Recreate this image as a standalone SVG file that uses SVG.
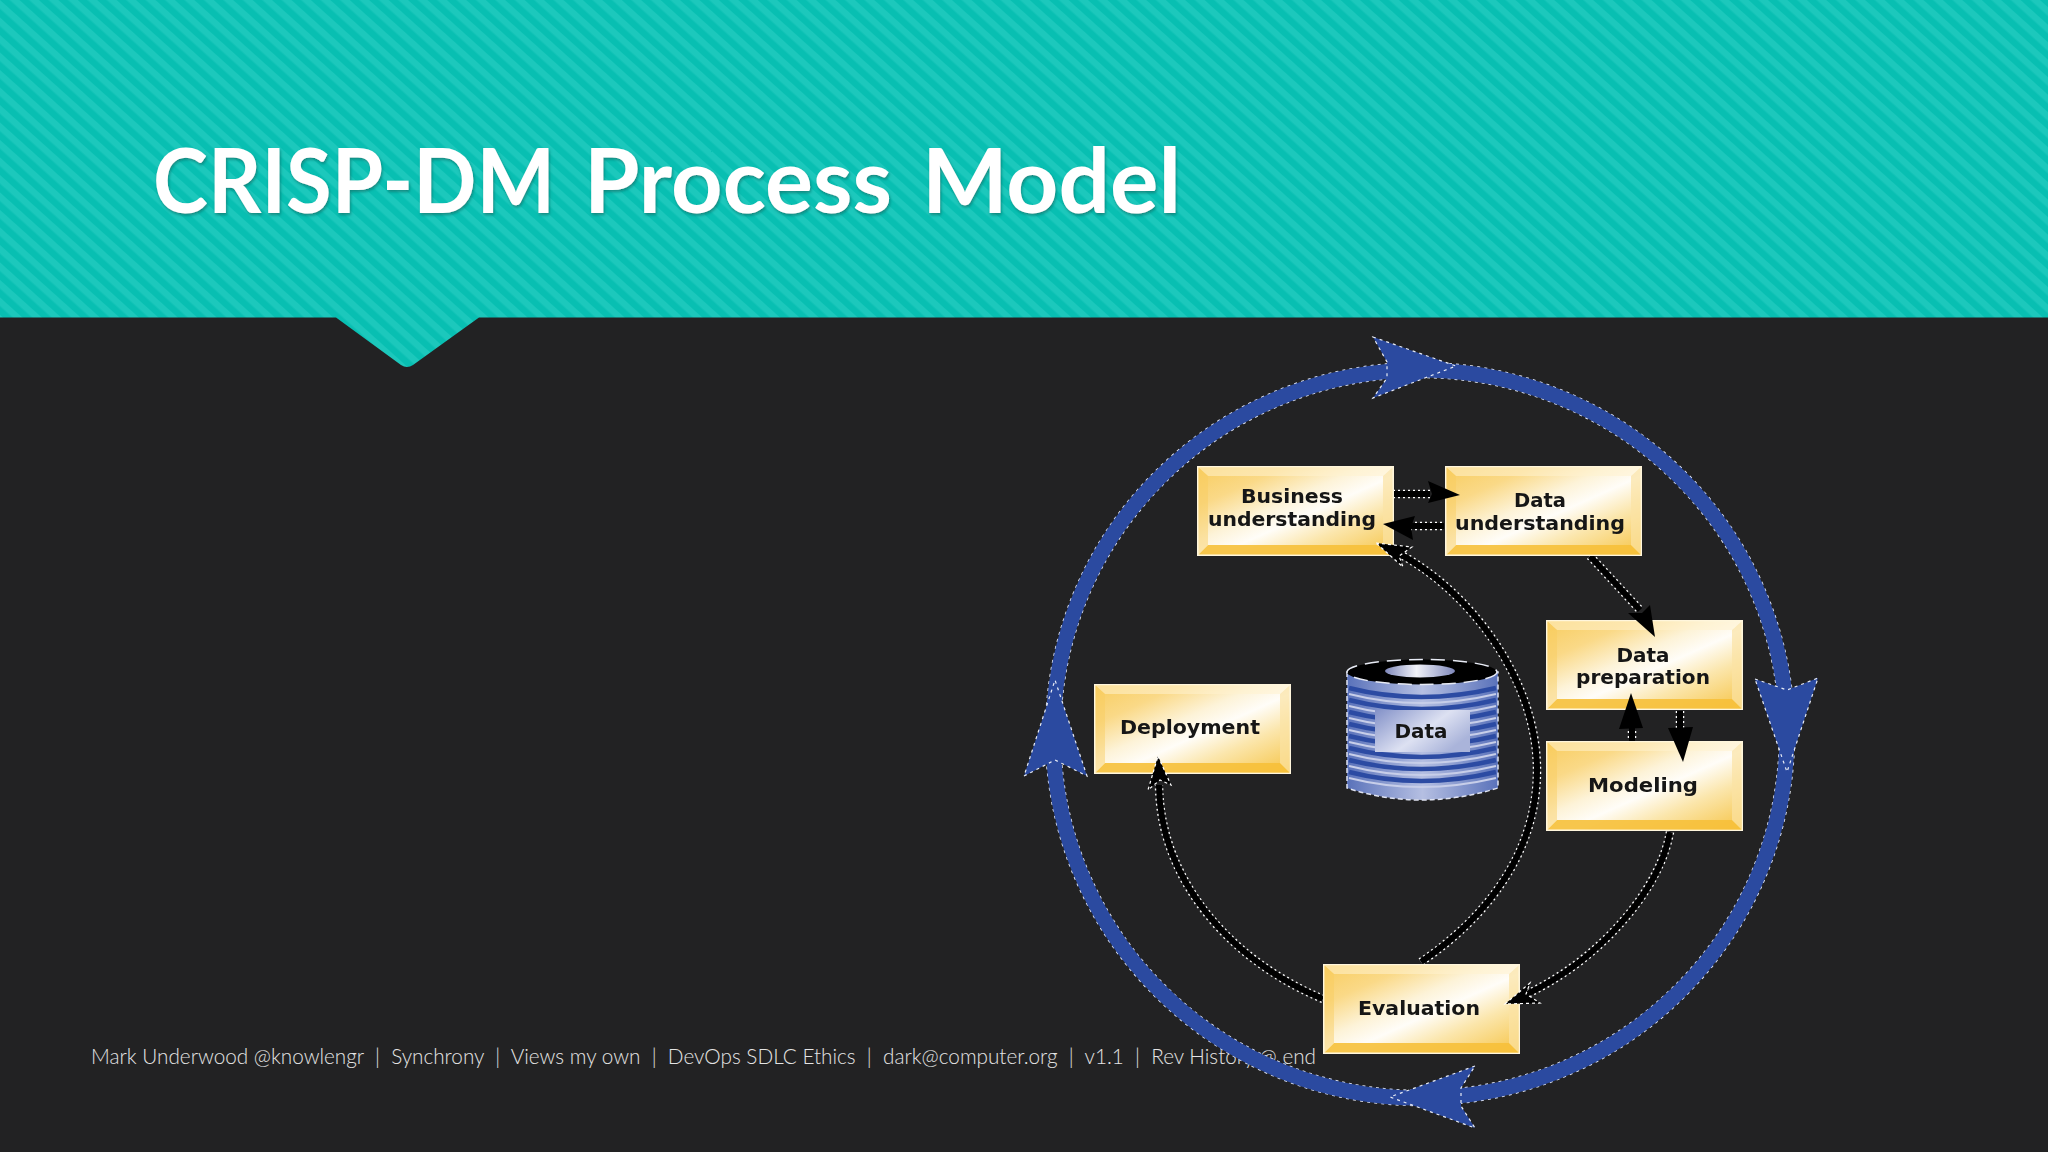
<svg xmlns="http://www.w3.org/2000/svg" xmlns:xlink="http://www.w3.org/1999/xlink" width="2048" height="1152" viewBox="0 0 2048 1152">
<defs>
<pattern id="stripes" width="13" height="13" patternUnits="userSpaceOnUse" patternTransform="rotate(42)">
<rect width="13" height="13" fill="#08bfb2"/>
<rect width="13" height="6.5" fill="#1cc8bc"/>
</pattern>
<linearGradient id="boxg" x1="0" y1="0" x2="1" y2="1">
<stop offset="0" stop-color="#f8cd60"/>
<stop offset="0.22" stop-color="#fad987"/>
<stop offset="0.42" stop-color="#fdf3d8"/>
<stop offset="0.55" stop-color="#fffdf8"/>
<stop offset="0.72" stop-color="#fbe6ac"/>
<stop offset="1" stop-color="#f6c446"/>
</linearGradient>
<linearGradient id="hole" x1="0" y1="0" x2="1" y2="0">
<stop offset="0" stop-color="#7f88bb"/>
<stop offset="0.45" stop-color="#f1f2f8"/>
<stop offset="1" stop-color="#7f88bb"/>
</linearGradient>
<linearGradient id="lab" x1="0" y1="0" x2="1" y2="0.6">
<stop offset="0" stop-color="#8391c8"/>
<stop offset="0.6" stop-color="#dde1f2"/>
<stop offset="1" stop-color="#aab4da"/>
</linearGradient>
<linearGradient id="cyl" x1="0" y1="0" x2="1" y2="0">
<stop offset="0" stop-color="#5a72ba"/>
<stop offset="0.5" stop-color="#b5bfe2"/>
<stop offset="1" stop-color="#5a72ba"/>
</linearGradient>
<filter id="soft" x="-5%" y="-20%" width="110%" height="140%"><feGaussianBlur stdDeviation="0.6"/></filter>
<filter id="shadow" x="-2%" y="-10%" width="104%" height="125%"><feDropShadow dx="1" dy="2" stdDeviation="1.5" flood-color="#0a6f68" flood-opacity="0.7"/></filter>
<g id="boxshape">
<rect x="0" y="0" width="197" height="90" fill="#fff6dc"/>
<rect x="1.5" y="1.5" width="194" height="87" fill="url(#boxg)"/>
<polygon points="1.5,1.5 195.500,1.500 186,10 11,10" fill="#fff3cf" fill-opacity="0.55"/>
<polygon points="1.500,88.500 195.500,88.500 186,79 11,79" fill="#f6c03a" fill-opacity="0.9"/>
<polygon points="1.500,1.500 11,10 11,79 1.500,88.500" fill="#f8cc5e" fill-opacity="0.45"/>
<polygon points="195.500,1.500 186,10 186,79 195.500,88.500" fill="#fbe3a4" fill-opacity="0.7"/>
</g>
</defs>
<style>
.box-t{font-family:"DejaVu Sans",sans-serif;font-weight:700;font-size:19px;fill:#141414;text-anchor:middle;filter:url(#soft)}
.edge{fill:none;stroke:#e8ecf6;stroke-dasharray:3 4}
.blue{fill:#2b4aa0;stroke:#e8ecf6;stroke-width:1.2;stroke-dasharray:3 4}
.blk{fill:#000;stroke:#fff;stroke-width:1.2;stroke-dasharray:3 3}
.inner-w{fill:none;stroke:#fff;stroke-width:8.500;stroke-dasharray:2 3}
.inner-b{fill:none;stroke:#000;stroke-width:6}
.rib{fill:none;stroke:#2c4ba3;stroke-width:4.500}
.rib2{fill:none;stroke:#c7cee9;stroke-width:2}
</style>

<rect id="background" width="2048" height="1152" fill="#222223"/>
<g id="header">
<path d="M0 0H2048V317.500H479L413 365Q407 369 401 365L336 317.500H0Z" fill="url(#stripes)"/>
<text id="title" y="213" font-family="Lato, 'Open Sans', sans-serif" font-weight="700" font-size="90" fill="#fff" filter="url(#shadow)"><tspan x="153" textLength="402" lengthAdjust="spacingAndGlyphs">CRISP-DM</tspan> <tspan x="584" textLength="308" lengthAdjust="spacingAndGlyphs">Process</tspan> <tspan x="922" textLength="259" lengthAdjust="spacingAndGlyphs">Model</tspan></text>
</g>
<text id="footer" x="91" y="1064" font-family="Lato, 'Open Sans', sans-serif" font-weight="300" font-size="21" fill="#e4e4e4" textLength="1225" lengthAdjust="spacingAndGlyphs" xml:space="preserve">Mark Underwood @knowlengr  |  Synchrony  |  Views my own  |  DevOps SDLC Ethics  |  dark@computer.org  |  v1.1  |  Rev History @ end</text>

<g id="connectors">
<g id="outer-cycle">
<ellipse cx="1420" cy="734" rx="367" ry="364" class="edge" stroke-width="16.500"/>
<ellipse cx="1420" cy="734" rx="367" ry="364" fill="none" stroke="#2b4aa0" stroke-width="15"/>
<polygon class="blue" points="1373,337 1456,366 1373,398 1387,378 1387,362"/>
<polygon class="blue" points="1755,679 1787,690 1818,678 1787,772"/>
<polygon class="blue" points="1475,1066 1390,1097 1475,1128 1461,1106 1461,1088"/>
<polygon class="blue" points="1024,776 1055,760 1087,776 1055,680"/>
</g>
<g id="inner-arrows">
<path class="inner-w" d="M1421 962C1490 915 1537 850 1537 770C1537 680 1470 590 1396 552"/>
<path class="inner-b" d="M1421 962C1490 915 1537 850 1537 770C1537 680 1470 590 1396 552"/>
<path class="inner-w" d="M1323 999C1230 960 1160 880 1159 785"/>
<path class="inner-b" d="M1323 999C1230 960 1160 880 1159 785"/>
<path class="inner-w" d="M1670 832C1660 890 1600 960 1525 995"/>
<path class="inner-b" d="M1670 832C1660 890 1600 960 1525 995"/>
<path class="inner-w" d="M1590 556L1640 610"/>
<path class="inner-b" d="M1590 556L1640 610"/>
<path class="inner-w" d="M1393 494H1430"/>
<path class="inner-w" d="M1410 526H1444"/>
<path class="inner-b" d="M1393 494H1430M1410 526H1444"/>
</g>
</g>

<g id="node-business"><use xlink:href="#boxshape" x="1197" y="466"/><text class="box-t" x="1292" y="503" textLength="102" lengthAdjust="spacingAndGlyphs">Business</text><text class="box-t" x="1292" y="526" textLength="168" lengthAdjust="spacingAndGlyphs">understanding</text></g>
<g id="node-data-understanding"><use xlink:href="#boxshape" x="1445" y="466"/><text class="box-t" x="1540" y="507" textLength="52" lengthAdjust="spacingAndGlyphs">Data</text><text class="box-t" x="1540" y="530" textLength="170" lengthAdjust="spacingAndGlyphs">understanding</text></g>
<g id="node-data-preparation"><use xlink:href="#boxshape" x="1546" y="620"/><text class="box-t" x="1643" y="662" textLength="53" lengthAdjust="spacingAndGlyphs">Data</text><text class="box-t" x="1643" y="684" textLength="134" lengthAdjust="spacingAndGlyphs">preparation</text></g>
<g id="node-modeling"><use xlink:href="#boxshape" x="1546" y="741"/><text class="box-t" x="1643" y="792" textLength="110" lengthAdjust="spacingAndGlyphs">Modeling</text></g>
<g id="node-deployment"><use xlink:href="#boxshape" x="1094" y="684"/><text class="box-t" x="1190" y="734" textLength="140" lengthAdjust="spacingAndGlyphs">Deployment</text></g>
<g id="node-evaluation"><use xlink:href="#boxshape" x="1323" y="964"/><text class="box-t" x="1419" y="1015" textLength="122" lengthAdjust="spacingAndGlyphs">Evaluation</text></g>

<g id="node-data">
<path d="M1347 672V788Q1420 812 1498 788V672Z" fill="url(#cyl)" stroke="#dfe3f2" stroke-width="1.500" stroke-dasharray="5 3"/>
<g id="data-ribs">
<path class="rib" d="M1349 688Q1420 706 1496 688"/><path class="rib2" d="M1349 694Q1420 712 1496 694"/>
<path class="rib" d="M1349 700Q1420 718 1496 700"/><path class="rib2" d="M1349 706Q1420 724 1496 706"/>
<path class="rib" d="M1349 712Q1420 730 1496 712"/><path class="rib2" d="M1349 718Q1420 736 1496 718"/>
<path class="rib" d="M1349 724Q1420 742 1496 724"/><path class="rib2" d="M1349 730Q1420 748 1496 730"/>
<path class="rib" d="M1349 736Q1420 754 1496 736"/><path class="rib2" d="M1349 742Q1420 760 1496 742"/>
<path class="rib" d="M1349 748Q1420 766 1496 748"/><path class="rib2" d="M1349 754Q1420 772 1496 754"/>
<path class="rib" d="M1349 760Q1420 778 1496 760"/><path class="rib2" d="M1349 766Q1420 784 1496 766"/>
<path class="rib" d="M1349 772Q1420 790 1496 772"/><path class="rib2" d="M1349 778Q1420 796 1496 778"/>
</g>
<ellipse cx="1422" cy="672" rx="75" ry="12.500" fill="#000" stroke="#e8ebf5" stroke-width="1.500" stroke-dasharray="14 8"/>
<ellipse cx="1420" cy="671" rx="35" ry="6.500" fill="url(#hole)"/>
<rect x="1375" y="710" width="95" height="42" fill="url(#lab)"/>
<text class="box-t" x="1421" y="738" textLength="53" lengthAdjust="spacingAndGlyphs">Data</text>
</g>

<g id="arrowheads">
<path class="inner-w" d="M1632 711V741"/><path class="inner-b" d="M1632 711V741"/>
<path class="inner-w" d="M1680 711V732"/><path class="inner-b" d="M1680 711V732"/>
<polygon fill="#000" points="1631,693 1643,728 1619,729"/>
<polygon fill="#000" points="1683,762 1668,728 1693,727"/>
<polygon class="blk" points="1376,543 1412,547 1399,556 1403,567"/>
<polygon class="blk" points="1158,756 1171,785 1160,780 1148,790"/>
<polygon class="blk" points="1505,1004 1530,983 1526,994 1540,1003"/>
<polygon fill="#000" points="1655,637 1628,613 1642,613 1650,605"/>
<polygon fill="#000" points="1460,495 1428,481 1432,494 1428,503"/>
<polygon fill="#000" points="1383,524 1415,516 1411,527 1413,540"/>
</g>
</svg>
